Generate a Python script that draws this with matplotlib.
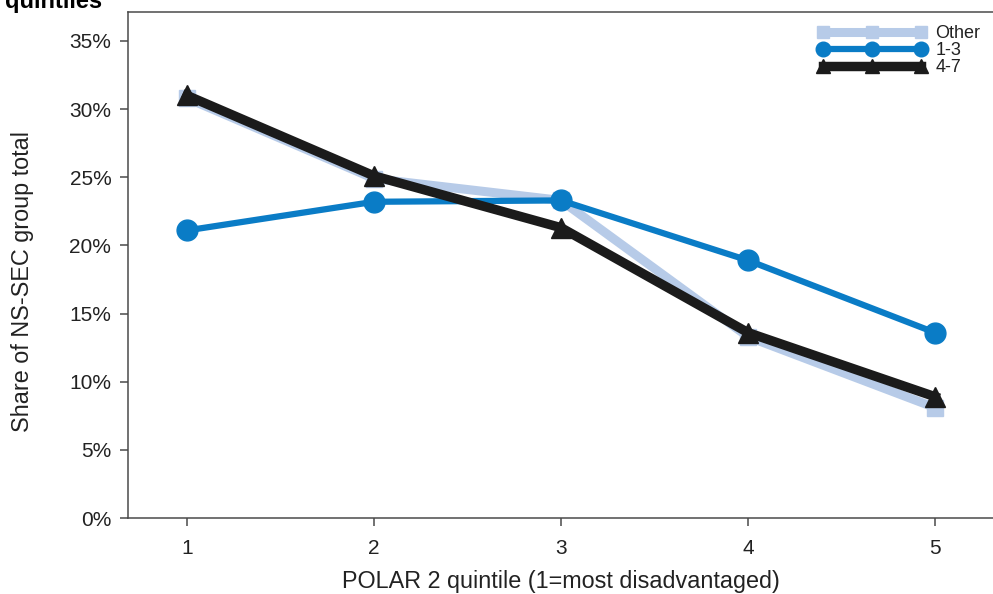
import matplotlib
matplotlib.use("Agg")
import matplotlib.pyplot as plt
from matplotlib.ticker import FuncFormatter

plt.rcParams['font.family'] = ['Liberation Sans', 'DejaVu Sans']

quintiles = [1, 2, 3, 4, 5]
other = [30.8, 24.9, 23.3, 13.3, 8.1]
ns_1_3 = [21.1, 23.2, 23.3, 18.9, 13.6]
ns_4_7 = [31.0, 25.1, 21.3, 13.6, 8.9]
series_labels = ["Other", "1-3", "4-7"]
y_ticks = [0, 5, 10, 15, 20, 25, 30, 35]

fig = plt.figure(figsize=(9.93, 5.94), dpi=100)
ax = fig.add_axes([128/993, 1 - 518/594, 1 - 128/993, (518 - 12)/594])

ax.plot(quintiles, other, color='#b7cbe8', lw=6.5, marker='s', ms=12,
        label=series_labels[0], zorder=2, solid_joinstyle='miter')
ax.plot(quintiles, ns_1_3, color='#0a7cc6', lw=4.5, marker='o', ms=15,
        label=series_labels[1], zorder=3)
ax.plot(quintiles, ns_4_7, color='#1b1b1b', lw=6.8, marker='^', ms=14,
        label=series_labels[2], zorder=4, solid_joinstyle='miter')

ax.set_xlim(1 - 59/187, 5 + 58/187)
ax.set_ylim(0, 506/13.63)
ax.set_xticks(quintiles)
ax.set_yticks(y_ticks)
ax.yaxis.set_major_formatter(FuncFormatter(lambda v, p: f"{int(v)}%"))

ax.spines['right'].set_visible(False)
for s in ['left', 'bottom', 'top']:
    ax.spines[s].set_color('#4a4a4a')
    ax.spines[s].set_linewidth(1.1)

ax.tick_params(axis='both', direction='out', length=6, width=1.1,
               color='#4a4a4a', labelsize=15, labelcolor='#222222')
ax.tick_params(axis='y', pad=6)
ax.tick_params(axis='x', pad=9)

ax.set_ylabel("Share of NS-SEC group total", fontsize=16.8, color='#222222')
ax.yaxis.set_label_coords(-0.109, (518 - 282) / 506)
ax.set_xlabel("POLAR 2 quintile (1=most disadvantaged)", fontsize=16.8, color='#222222', labelpad=9)

leg = ax.legend(loc='upper right', bbox_to_anchor=(1.0, 1.0), frameon=False,
                fontsize=13, handlelength=6.0, numpoints=3, markerscale=0.7,
                labelspacing=0.0, handletextpad=0.5, borderaxespad=0.3,
                handleheight=0.6)
for t in leg.get_texts():
    t.set_color('#222222')

fig.text(0.005, 1 - 8/594, "quintiles", fontsize=17, fontweight='bold',
         va='baseline', ha='left')

fig.savefig("out.png", dpi=100)
